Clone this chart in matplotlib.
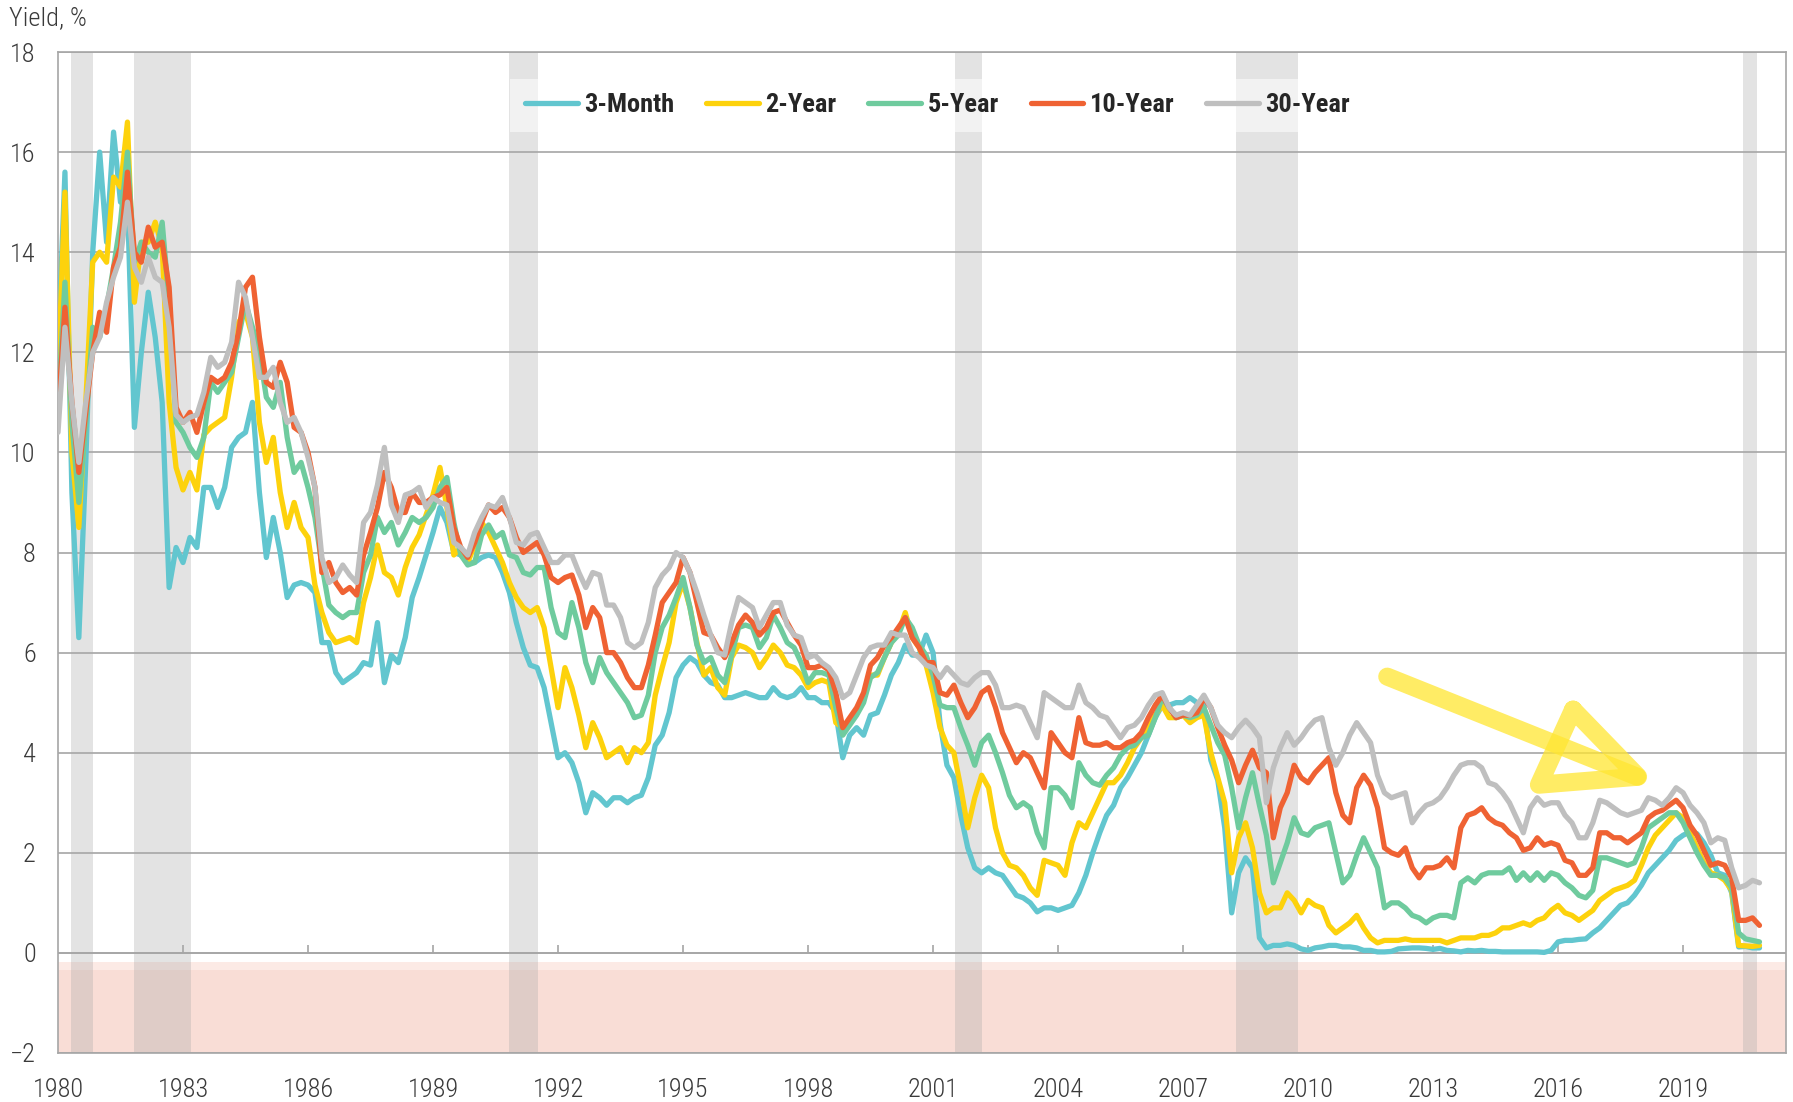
import numpy as np
import pandas as pd
import matplotlib
matplotlib.use("Agg")
import matplotlib.pyplot as plt
from matplotlib import font_manager

# Treasury yields, one reading every two months (Jan, Mar, May, Jul, Sep, Nov), 1980-2020
dates = pd.date_range("1980-01-01", periods=246, freq="2MS")

t3m = [
    12.0, 15.6, 9.2, 6.3, 9.8, 14.0,
    16.0, 14.2, 16.4, 15.0, 15.0, 10.5,
    12.0, 13.2, 12.3, 11.0, 7.3, 8.1,
    7.8, 8.3, 8.1, 9.3, 9.3, 8.9,
    9.3, 10.1, 10.3, 10.4, 11.0, 9.2,
    7.9, 8.7, 8.0, 7.1, 7.35, 7.4,
    7.35, 7.2, 6.2, 6.2, 5.6, 5.4,
    5.5, 5.6, 5.8, 5.75, 6.6, 5.4,
    5.95, 5.8, 6.3, 7.1, 7.5, 7.95,
    8.4, 8.9, 8.6, 8.0, 7.95, 7.8,
    7.8, 7.9, 7.95, 7.9, 7.6, 7.2,
    6.6, 6.1, 5.75, 5.7, 5.3, 4.6,
    3.9, 4.0, 3.8, 3.4, 2.8, 3.2,
    3.1, 2.95, 3.1, 3.1, 3.0, 3.1,
    3.15, 3.5, 4.15, 4.35, 4.8, 5.5,
    5.75, 5.9, 5.8, 5.55, 5.4, 5.35,
    5.1, 5.1, 5.15, 5.2, 5.15, 5.1,
    5.1, 5.3, 5.15, 5.1, 5.15, 5.3,
    5.1, 5.1, 5.0, 5.0, 4.8, 3.9,
    4.35, 4.5, 4.35, 4.75, 4.8, 5.15,
    5.55, 5.8, 6.15, 5.95, 5.95, 6.35,
    6.0, 4.6, 3.75, 3.5, 2.75, 2.1,
    1.7, 1.6, 1.7, 1.6, 1.55, 1.35,
    1.15, 1.1, 1.0, 0.82, 0.9, 0.9,
    0.85, 0.9, 0.95, 1.2, 1.55, 2.0,
    2.4, 2.75, 2.95, 3.3, 3.5, 3.75,
    4.0, 4.35, 4.7, 4.95, 4.95, 5.0,
    5.0, 5.1, 5.0, 4.95, 3.85, 3.45,
    2.5, 0.8, 1.6, 1.9, 1.7, 0.3,
    0.1, 0.15, 0.15, 0.18, 0.15, 0.08,
    0.05, 0.1, 0.12, 0.15, 0.15, 0.12,
    0.12, 0.1, 0.05, 0.05, 0.02, 0.02,
    0.03, 0.08, 0.09, 0.1, 0.1, 0.09,
    0.07, 0.09, 0.05, 0.04, 0.02, 0.05,
    0.04, 0.05, 0.03, 0.03, 0.02, 0.02,
    0.02, 0.02, 0.02, 0.02, 0.01, 0.05,
    0.22, 0.25, 0.25, 0.27, 0.28, 0.4,
    0.5, 0.65, 0.8, 0.95, 1.0, 1.15,
    1.35, 1.6, 1.75, 1.9, 2.05, 2.25,
    2.35, 2.42, 2.38, 2.2, 1.95, 1.6,
    1.55, 1.2, 0.12, 0.13, 0.1, 0.1,
]

t2y = [
    11.5, 15.2, 10.0, 8.5, 11.0, 13.8,
    14.0, 13.8, 15.5, 15.3, 16.6, 13.0,
    14.2, 14.2, 14.6, 14.1, 11.0, 9.7,
    9.25, 9.6, 9.25, 10.35, 10.5, 10.6,
    10.7, 11.5, 12.6, 12.8, 12.3, 10.6,
    9.8, 10.3, 9.2, 8.5, 9.0, 8.5,
    8.3, 7.35, 6.8, 6.4, 6.2, 6.25,
    6.3, 6.2, 7.0, 7.5, 8.15, 7.6,
    7.5, 7.15, 7.7, 8.1, 8.35, 8.75,
    9.15, 9.7, 8.9, 7.95, 8.1, 7.8,
    8.15, 8.6, 8.4, 8.1, 7.8, 7.4,
    7.1, 6.9, 6.8, 6.9, 6.5, 5.7,
    4.9, 5.7, 5.3, 4.75, 4.1, 4.6,
    4.3, 3.9, 4.0, 4.1, 3.8, 4.1,
    4.0, 4.2, 5.15, 5.7, 6.2, 7.0,
    7.4, 6.9, 6.2, 5.55, 5.7, 5.3,
    5.15, 5.9, 6.15, 6.1, 6.0, 5.7,
    5.9, 6.15, 6.0, 5.75, 5.7, 5.55,
    5.3, 5.4, 5.45, 5.4, 4.6, 4.5,
    4.6, 4.8, 5.1, 5.55, 5.55, 5.9,
    6.2, 6.4, 6.8, 6.3, 6.1, 5.75,
    5.2, 4.5, 4.15, 4.0, 3.3, 2.5,
    3.1, 3.55, 3.3, 2.5, 2.0, 1.75,
    1.7, 1.55, 1.3, 1.15, 1.85, 1.8,
    1.75, 1.55, 2.2, 2.6, 2.5, 2.8,
    3.1, 3.4, 3.4, 3.55, 3.8, 4.1,
    4.3, 4.5, 4.75, 4.95, 4.7, 4.7,
    4.75, 4.6, 4.7, 4.75, 4.0, 3.5,
    3.0, 1.6, 2.3, 2.6, 2.1, 1.2,
    0.8, 0.9, 0.9, 1.2, 1.05, 0.8,
    1.05, 0.95, 0.9, 0.55, 0.4, 0.5,
    0.6, 0.75, 0.5, 0.3, 0.2, 0.25,
    0.25, 0.25, 0.28, 0.25, 0.25, 0.25,
    0.25, 0.25, 0.2, 0.25, 0.3, 0.3,
    0.3, 0.35, 0.35, 0.4, 0.5, 0.5,
    0.55, 0.6, 0.55, 0.65, 0.7, 0.85,
    0.95, 0.8, 0.75, 0.65, 0.75, 0.85,
    1.05, 1.15, 1.25, 1.3, 1.35, 1.45,
    1.75, 2.1, 2.35, 2.5, 2.65, 2.8,
    2.7, 2.4, 2.1, 1.8, 1.6, 1.55,
    1.45, 1.25, 0.15, 0.14, 0.13, 0.15,
]

t5y = [
    10.9, 13.4, 10.6, 9.0, 10.6, 12.5,
    12.3, 12.9, 13.7, 14.6, 16.0, 13.8,
    14.2, 14.0, 13.9, 14.6, 13.0, 10.6,
    10.4, 10.1, 9.9, 10.3, 11.4, 11.2,
    11.4, 11.6, 12.3, 13.0, 12.5, 12.0,
    11.1, 10.9, 11.4, 10.3, 9.6, 9.8,
    9.3, 8.7, 7.75, 6.95, 6.8, 6.7,
    6.8, 6.8, 7.6, 7.95, 8.7, 8.4,
    8.6, 8.15, 8.4, 8.7, 8.6, 8.7,
    8.9, 9.3, 9.5, 8.6, 7.95, 7.75,
    7.8, 8.35, 8.55, 8.3, 8.4, 7.95,
    7.9, 7.6, 7.55, 7.7, 7.7, 6.9,
    6.4, 6.3, 7.0, 6.5, 5.8, 5.4,
    5.9, 5.6, 5.4, 5.2, 5.0, 4.7,
    4.75, 5.15, 6.0, 6.5, 6.75, 7.1,
    7.5, 6.9, 6.15, 5.8, 5.9, 5.55,
    5.4, 5.95, 6.5, 6.55, 6.5, 6.1,
    6.3, 6.75, 6.5, 6.2, 6.1, 5.8,
    5.4, 5.6, 5.6, 5.55, 4.9, 4.35,
    4.55, 4.75, 5.0, 5.5, 5.6, 5.9,
    6.2, 6.35, 6.7, 6.5, 6.15, 5.95,
    5.55, 4.95, 4.9, 4.9, 4.5, 4.15,
    3.75, 4.2, 4.35, 4.0, 3.6, 3.15,
    2.9, 3.0, 2.9, 2.4, 2.1, 3.3,
    3.3, 3.15, 2.9, 3.8, 3.55, 3.4,
    3.35, 3.55, 3.7, 3.95, 4.1, 4.15,
    4.3, 4.35, 4.7, 5.1, 4.9, 4.7,
    4.75, 4.7, 4.75, 4.9, 4.55, 4.2,
    3.95, 3.3, 2.5, 3.1, 3.6, 2.95,
    2.35, 1.4, 1.8, 2.2, 2.7, 2.4,
    2.35, 2.5, 2.55, 2.6, 2.0, 1.4,
    1.55, 1.95, 2.3, 2.0, 1.7, 0.9,
    1.0, 1.0, 0.9, 0.75, 0.7, 0.6,
    0.7, 0.75, 0.75, 0.7, 1.4, 1.5,
    1.4, 1.55, 1.6, 1.6, 1.6, 1.7,
    1.45, 1.6, 1.45, 1.6, 1.45, 1.6,
    1.55, 1.4, 1.3, 1.15, 1.1, 1.25,
    1.9, 1.9, 1.85, 1.8, 1.75, 1.8,
    2.1, 2.5, 2.6, 2.7, 2.8, 2.8,
    2.6, 2.3, 2.0, 1.75, 1.55, 1.55,
    1.5, 1.3, 0.4, 0.28, 0.25, 0.22,
]

t10y = [
    10.8, 12.9, 11.0, 9.6, 10.8, 12.0,
    12.8, 12.4, 13.7, 14.1, 15.6, 14.0,
    13.8, 14.5, 14.1, 14.2, 13.3, 10.9,
    10.6, 10.8, 10.4, 11.0, 11.5, 11.4,
    11.5, 11.8, 12.4, 13.3, 13.5, 12.3,
    11.4, 11.3, 11.8, 11.4, 10.5, 10.4,
    10.0, 9.3, 7.6, 7.8, 7.4, 7.2,
    7.3, 7.15, 7.95, 8.4, 8.9, 9.6,
    9.3, 8.8, 8.8, 9.2, 9.0, 9.0,
    9.1, 9.15, 9.3, 8.5, 8.1, 7.9,
    8.2, 8.6, 8.95, 8.8, 8.9, 8.7,
    8.3, 8.0, 8.1, 8.2, 7.95, 7.5,
    7.4, 7.5, 7.55, 7.15, 6.5, 6.9,
    6.7, 6.0, 6.0, 5.8, 5.5, 5.3,
    5.3, 5.75, 6.35, 7.0, 7.2, 7.4,
    7.9, 7.6, 7.0, 6.4, 6.35, 6.1,
    5.9, 6.2, 6.55, 6.75, 6.6, 6.35,
    6.5, 6.8, 6.85, 6.6, 6.35, 6.15,
    5.7, 5.7, 5.75, 5.65, 5.2, 4.5,
    4.7, 4.9, 5.2, 5.75, 5.9, 6.15,
    6.3, 6.5, 6.7, 6.3, 6.1, 5.8,
    5.8, 5.2, 5.15, 5.35, 5.0, 4.7,
    4.9, 5.2, 5.3, 4.9, 4.4, 4.1,
    3.8, 4.0, 3.9, 3.6, 3.3, 4.4,
    4.2, 4.0, 3.9, 4.7, 4.2, 4.15,
    4.15, 4.2, 4.1, 4.1, 4.2, 4.25,
    4.4, 4.7, 4.95, 5.15, 4.9, 4.7,
    4.75, 4.75, 4.8, 5.1, 4.9, 4.5,
    4.15, 3.85, 3.4, 3.75, 4.05, 3.7,
    3.6, 2.3, 2.9, 3.2, 3.75, 3.5,
    3.4, 3.6, 3.75, 3.9, 3.2, 2.75,
    2.6, 3.3, 3.55, 3.35, 2.9, 2.1,
    2.0, 1.95, 2.1, 1.7, 1.5, 1.7,
    1.7, 1.75, 1.9, 1.7, 2.5, 2.75,
    2.8, 2.9, 2.7, 2.6, 2.55, 2.4,
    2.3, 2.05, 2.1, 2.3, 2.15, 2.2,
    2.15, 1.85, 1.8, 1.55, 1.55, 1.7,
    2.4, 2.4, 2.3, 2.3, 2.2, 2.3,
    2.4, 2.7, 2.8, 2.85, 2.95, 3.05,
    2.9, 2.55, 2.35, 2.05, 1.75, 1.8,
    1.75, 1.5, 0.65, 0.65, 0.7, 0.55,
]

t30y = [
    10.4, 12.5, 11.0, 9.8, 11.0, 12.0,
    12.3, 13.0, 13.5, 13.9, 15.0, 13.7,
    13.4, 13.9, 13.5, 13.4, 12.5, 10.75,
    10.6, 10.7, 10.75, 11.2, 11.9, 11.7,
    11.8, 12.2, 13.4, 13.1, 12.3, 11.5,
    11.5, 11.7, 11.0, 10.6, 10.7, 10.4,
    9.9, 9.3, 7.9, 7.4, 7.5, 7.75,
    7.55, 7.4, 8.6, 8.8, 9.35, 10.1,
    8.95, 8.6, 9.15, 9.2, 9.3, 8.9,
    9.1, 9.0, 8.95, 8.2, 8.1, 7.95,
    8.4, 8.7, 8.95, 8.9, 9.1, 8.7,
    8.2, 8.15, 8.35, 8.4, 8.1, 7.8,
    7.8, 7.95, 7.95, 7.6, 7.3, 7.6,
    7.55, 6.95, 6.95, 6.7, 6.2, 6.1,
    6.2, 6.6, 7.3, 7.55, 7.7, 8.0,
    7.9, 7.6, 7.2, 6.75, 6.35, 6.0,
    5.95, 6.6, 7.1, 7.0, 6.9, 6.5,
    6.75, 7.0, 7.0, 6.55, 6.35, 6.3,
    5.9, 5.95, 5.8, 5.7, 5.5, 5.1,
    5.2, 5.55, 5.9, 6.1, 6.15, 6.15,
    6.4, 6.35, 6.35, 6.0, 5.9, 5.75,
    5.7, 5.5, 5.7, 5.55, 5.4, 5.35,
    5.5, 5.6, 5.6, 5.35, 4.9, 4.9,
    4.95, 4.9, 4.6, 4.3, 5.2, 5.1,
    5.0, 4.9, 4.9, 5.35, 5.0, 4.9,
    4.75, 4.7, 4.5, 4.3, 4.5, 4.55,
    4.7, 4.95, 5.15, 5.2, 4.9, 4.75,
    4.8, 4.75, 4.95, 5.15, 4.9, 4.55,
    4.4, 4.3, 4.5, 4.65, 4.5, 4.3,
    3.0, 3.7, 4.1, 4.4, 4.15, 4.3,
    4.5, 4.65, 4.7, 4.1, 3.75, 4.0,
    4.35, 4.6, 4.4, 4.2, 3.55, 3.2,
    3.1, 3.15, 3.2, 2.6, 2.8, 2.95,
    3.0, 3.1, 3.3, 3.55, 3.75, 3.8,
    3.8, 3.7, 3.4, 3.35, 3.2, 3.0,
    2.7, 2.4, 2.9, 3.1, 2.95, 3.0,
    3.0, 2.75, 2.6, 2.3, 2.3, 2.6,
    3.05, 3.0, 2.9, 2.8, 2.75, 2.8,
    2.85, 3.1, 3.05, 2.95, 3.1, 3.3,
    3.2, 2.95, 2.8, 2.6, 2.2, 2.3,
    2.25, 1.7, 1.3, 1.35, 1.45, 1.4,
]

series_names = ["3-Month", "2-Year", "5-Year", "10-Year", "30-Year"]
series_colors = ["#62C6CF", "#FDD20C", "#6FCB9E", "#EF6233", "#BFBFBF"]

# recession shading as drawn on the chart (decimal years)
recessions = [(1980.32, 1980.83), (1981.82, 1983.19), (1990.82, 1991.52),
              (2001.53, 2002.17), (2008.27, 2009.76), (2020.44, 2020.77)]

year_ticks = list(range(1980, 2020, 3))

# pick a condensed face if one is installed
names = {f.name for f in font_manager.fontManager.ttflist}
cond = next((n for n in ["Roboto Condensed", "Liberation Sans Narrow", "Arial Narrow"]
             if n in names), "DejaVu Sans")
plt.rcParams["font.family"] = [cond, "DejaVu Sans"]

x = dates.year + (dates.month - 1) / 12.0

fig = plt.figure(figsize=(17.93, 11.02), dpi=100)
ax = fig.add_axes([58 / 1793, 1 - 1053 / 1102, 1728 / 1793, 1001 / 1102])

grid_c = "#A6A6A6"
ax.set_xlim(1980, 2021.47)
ax.set_ylim(-2, 18)
ax.set_yticks(range(-2, 19, 2))
ax.yaxis.grid(True, color=grid_c, lw=1.2, zorder=0)
ax.set_axisbelow(True)
for sp in ax.spines.values():
    sp.set_color(grid_c)
    sp.set_linewidth(1.2)

# negative-yield zone
ax.axhspan(-2, -0.34, color="#F9DDD6", lw=0, zorder=0.5)
ax.axhspan(-0.34, -0.18, color="#FCEAE5", lw=0, zorder=0.5)

for a, b in recessions:
    ax.axvspan(a, b, color="#AAAAAA", alpha=0.33, lw=0, zorder=1)

ax.axhline(0, color=grid_c, lw=1.2, zorder=1.5)
ax.vlines(year_ticks[1:], 0, 0.16, color=grid_c, lw=1.2, zorder=1.5)

for vals, name, col in zip([t3m, t2y, t5y, t10y, t30y], series_names, series_colors):
    ax.plot(x, vals, color=col, lw=3.8, label=name, zorder=3,
            solid_joinstyle="round", solid_capstyle="round")

# hand-drawn highlighter arrow
hl = dict(color="#FFE631", alpha=0.75, lw=13, solid_capstyle="round",
          solid_joinstyle="round", zorder=5)
ax.plot([2011.9, 2017.9], [5.52, 3.52], **hl)
ax.plot([2016.36, 2015.54, 2017.92, 2016.36], [4.86, 3.36, 3.52, 4.86], **hl)

ax.set_xticks(year_ticks)
ax.tick_params(axis="both", length=0, labelsize=19, labelcolor="#3A3A3A")
for lab in ax.get_xticklabels() + ax.get_yticklabels():
    lab.set_fontweight("light")
ax.tick_params(axis="y", pad=16)
ax.tick_params(axis="x", pad=18)

leg = ax.legend(loc="center", bbox_to_anchor=(0.509, 0.947), ncol=5,
                frameon=True, fancybox=False, framealpha=0.57,
                handlelength=2.0, handletextpad=0.25, columnspacing=1.2,
                borderpad=0.55, prop={"weight": "bold", "size": 19})
leg.get_frame().set_facecolor("white")
leg.get_frame().set_edgecolor("none")
for line in leg.get_lines():
    line.set_linewidth(3.8)
    line.set_solid_capstyle("round")
for t in leg.get_texts():
    t.set_color("#262626")

fig.text(9 / 1793, 1 - 18 / 1102, "Yield, %", fontsize=19, fontweight="light",
         color="#3A3A3A", va="center")

fig.savefig("out.png", dpi=100)
